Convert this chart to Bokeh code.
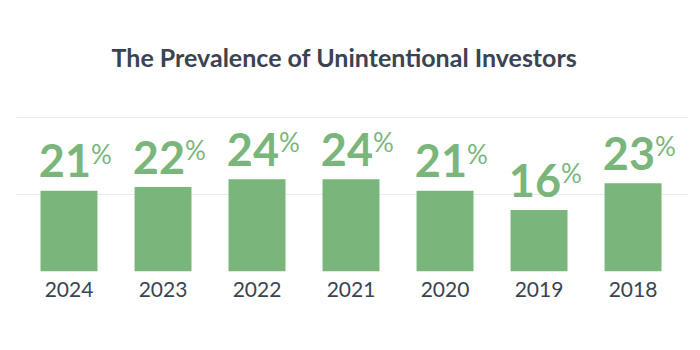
from bokeh.plotting import figure
from bokeh.models import Range1d, FixedTicker, ColumnDataSource
from bokeh.core.properties import value
from bokeh.embed import file_html
from bokeh.resources import INLINE

years = ["2024", "2023", "2022", "2021", "2020", "2019", "2018"]
shares = [21, 22, 24, 24, 21, 16, 23]
grid_ticks = [0, 20, 40]

GREEN = "#7ab57b"
DARK = "#3b4352"
FONT = "Lato"

xs = list(range(len(years)))
src = ColumnDataSource(dict(
    x=xs,
    top=shares,
    num=[str(v) for v in shares],
    pct=["%"] * len(shares),
))

p = figure(width=700, height=350, output_backend="svg", toolbar_location=None,
           x_range=Range1d(-0.5585, 6.590), y_range=Range1d(0, 49.74),
           min_border_left=16, min_border_right=12, min_border_top=80,
           min_border_bottom=79, outline_line_color=None,
           title="The Prevalence of Unintentional Investors")

p.title.align = "left"
p.title.text_font = FONT
p.title.text_font_size = "25px"
p.title.text_font_style = "bold"
p.title.text_color = DARK
p.title.standoff = 18
p.title.offset = 95

p.vbar(x="x", top="top", width=0.606, bottom=0, source=src,
       fill_color=GREEN, line_color=None)

p.text(x="x", y="top", text="num", source=src, text_align="right",
       text_baseline="alphabetic", x_offset=22, y_offset=-30,
       text_font=value(FONT), text_font_style="bold",
       text_font_size="45px", text_color=GREEN)
p.text(x="x", y="top", text="pct", source=src, text_align="left",
       text_baseline="alphabetic", x_offset=22, y_offset=-37,
       text_font=value(FONT), text_font_size="26px", text_color=GREEN)

p.yaxis.visible = False
p.ygrid.ticker = FixedTicker(ticks=grid_ticks)
p.ygrid.grid_line_color = "#ebebeb"
p.ygrid.grid_line_width = 1
p.xgrid.grid_line_color = None

p.xaxis.ticker = FixedTicker(ticks=xs)
p.xaxis.major_label_overrides = {i: y for i, y in zip(xs, years)}
p.xaxis.axis_line_color = None
p.xaxis.major_tick_line_color = None
p.xaxis.minor_tick_line_color = None
p.xaxis.major_tick_out = 0
p.xaxis.major_label_standoff = 10
p.xaxis.major_label_text_font = FONT
p.xaxis.major_label_text_font_size = "21px"
p.xaxis.major_label_text_color = DARK

open("out.html", "w").write(file_html(p, INLINE))
